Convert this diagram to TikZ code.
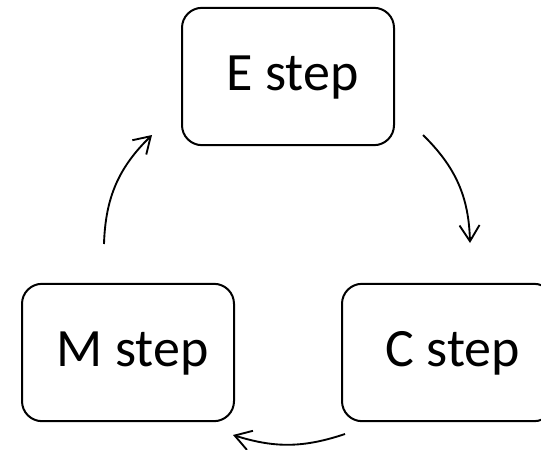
\documentclass[tikz,border=0pt]{standalone}
\usepackage{fontspec}
\setmainfont{Carlito}
\usetikzlibrary{arrows.meta}

\tikzset{
  stepbox/.style={draw,line width=1.5pt,rounded corners=15pt,
    minimum width=159pt,minimum height=103pt,
    font=\fontsize{40.5}{48}\selectfont,text height=31pt,text depth=10pt,
    execute at begin node=\hspace*{7pt}},
  cycarrow/.style={line width=1.4pt,-{Straight Barb[length=12pt,width=15pt,line width=1.4pt]}}
}

\begin{document}
\begin{tikzpicture}[x=0.75pt,y=0.75pt,yscale=-1,xscale=1]
\clip (0,0) rectangle (541,449);
% the three steps
\node[stepbox] (estep) at (288,76.5) {E step};
\node[stepbox] (mstep) at (128,352.5) {M step};
\node[stepbox] (cstep) at (448,352.5) {C step};
% free ends of the cycle arrows
\coordinate (m1) at (104,244);
\coordinate (e1) at (152,135);
\coordinate (e2) at (423,135);
\coordinate (c1) at (470,243);
\coordinate (c2) at (345,434);
\coordinate (m2) at (233,435);
\draw[cycarrow] (m1) to[bend right=22] (e1);
\draw[cycarrow] (e2) to[bend right=22] (c1);
\draw[cycarrow] (c2) to[bend right=18] (m2);
\end{tikzpicture}
\end{document}
